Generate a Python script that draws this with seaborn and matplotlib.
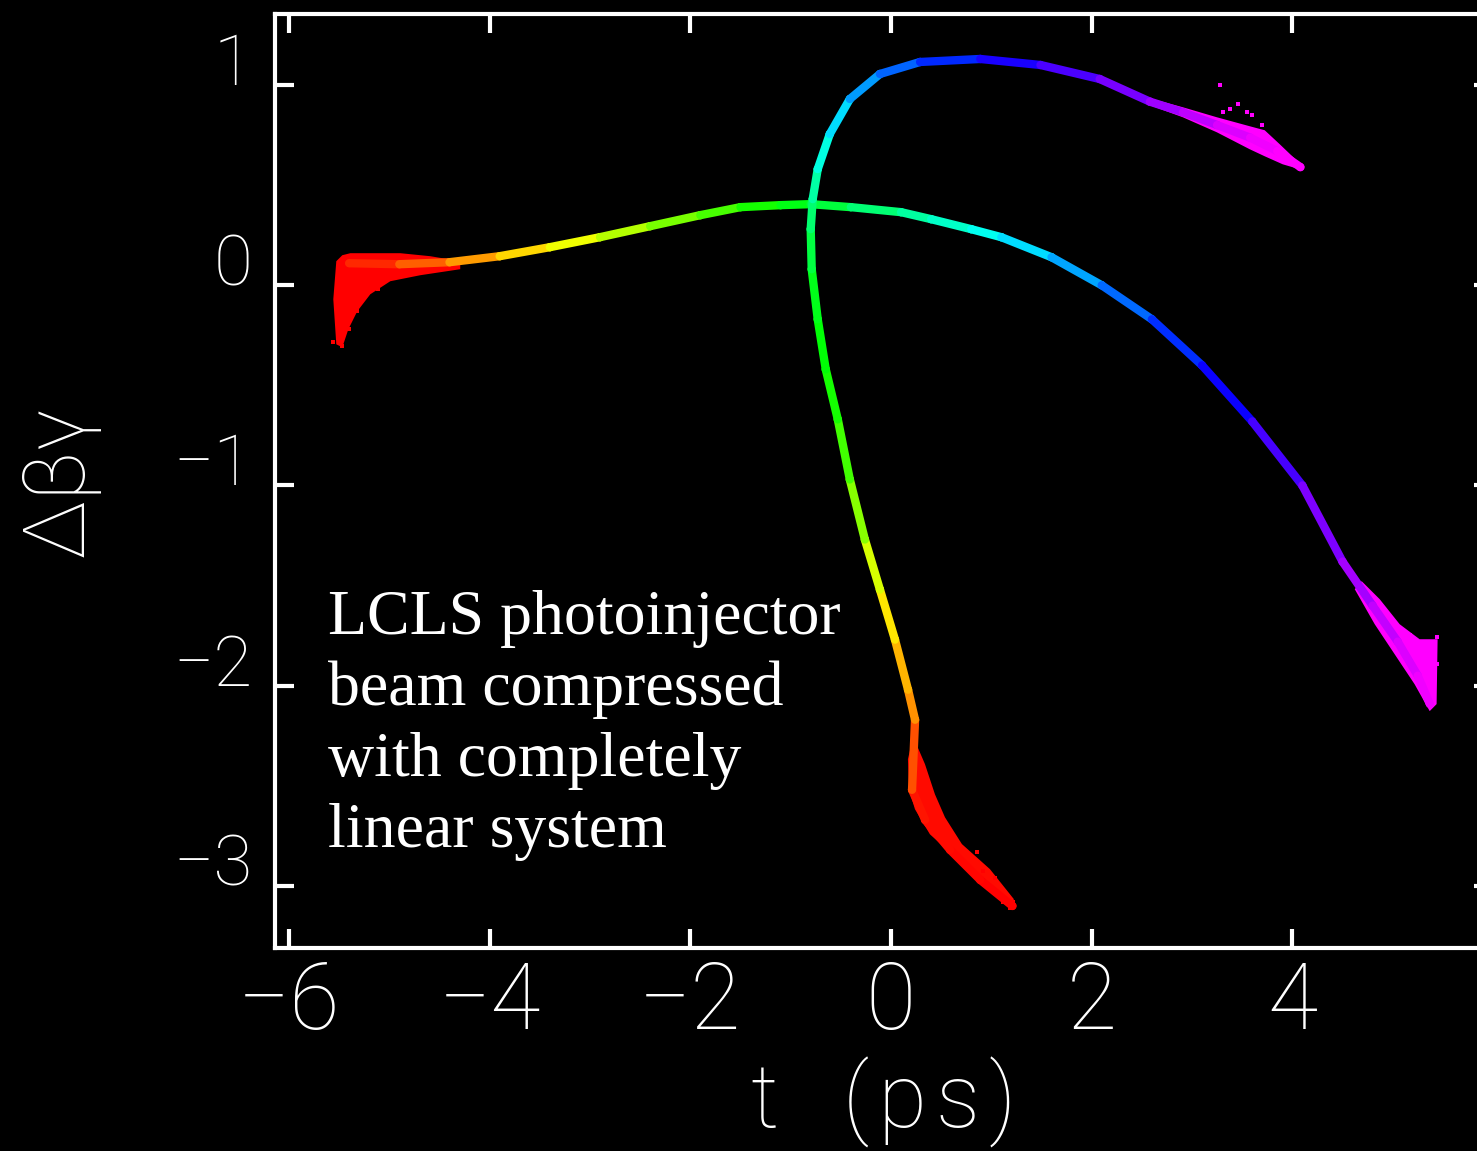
import colorsys
import numpy as np
import pandas as pd
import matplotlib
matplotlib.use("Agg")
import matplotlib.pyplot as plt
from matplotlib.collections import LineCollection
from matplotlib.colors import ListedColormap, Normalize
import seaborn as sns

# Initial (uncompressed) beam: slice time t (ps) and energy deviation
init_t = [-5.40, -4.90, -4.40, -3.90, -3.40, -2.90, -2.40, -1.90, -1.50, -1.10,
          -0.80, -0.40, 0.10, 0.40, 0.80, 1.10, 1.60, 2.10, 2.60, 3.10,
          3.60, 4.10, 4.50, 4.80, 5.05, 5.25, 5.37]
init_dg = [0.110, 0.105, 0.115, 0.145, 0.190, 0.240, 0.295, 0.350, 0.390, 0.400,
           0.405, 0.390, 0.365, 0.330, 0.280, 0.240, 0.140, 0.000, -0.170, -0.400,
           -0.680, -1.000, -1.380, -1.600, -1.780, -1.950, -2.090]

# Compressed beam: t, energy deviation and the original slice time of each point
comp_t = [1.21, 0.89, 0.59, 0.34, 0.21, 0.24, 0.17, 0.04, -0.11, -0.26,
          -0.41, -0.53, -0.65, -0.73, -0.79, -0.80, -0.78, -0.73, -0.61, -0.41,
          -0.11, 0.29, 0.89, 1.49, 2.08, 2.58, 2.91, 3.25, 3.58, 3.85, 4.08]
comp_dg = [-3.10, -2.97, -2.82, -2.67, -2.52, -2.17, -2.02, -1.77, -1.52, -1.27,
           -0.97, -0.67, -0.42, -0.17, 0.08, 0.28, 0.43, 0.58, 0.755, 0.93,
           1.055, 1.115, 1.130, 1.100, 1.030, 0.917, 0.864, 0.800, 0.737, 0.670, 0.590]
comp_phase = [-5.50, -5.45, -5.40, -5.35, -5.25, -4.30, -4.20, -3.70, -3.30, -2.60,
              -1.95, -1.40, -1.15, -1.00, -0.77, -0.37, 0.05, 0.55, 1.07, 1.70,
              2.10, 2.65, 3.20, 3.70, 4.10, 4.45, 4.75, 5.00, 5.25, 5.38, 5.45]

# Outlines of the spread-out beam ends
head_init_t = [-5.528, -5.468, -5.388, -4.890, -4.592, -4.293, -4.293, -4.691, -4.990,
               -5.189, -5.319, -5.408, -5.468, -5.528, -5.558]
head_init_dg = [0.120, 0.150, 0.160, 0.160, 0.145, 0.120, 0.080, 0.050, 0.020,
                -0.045, -0.130, -0.220, -0.310, -0.295, -0.070]
tail_init_t = [4.622, 4.821, 5.020, 5.219, 5.369, 5.438, 5.448, 5.269, 5.070, 4.871, 4.691]
tail_init_dg = [-1.518, -1.693, -1.843, -1.993, -2.127, -2.092, -1.768, -1.768, -1.693,
                -1.568, -1.478]
head_comp_t = [0.200, 0.169, 0.179, 0.239, 0.388, 0.637, 0.936, 1.205, 1.225, 0.986,
               0.707, 0.538, 0.438, 0.339, 0.260]
head_comp_dg = [-2.300, -2.367, -2.517, -2.617, -2.742, -2.856, -2.966, -3.096, -3.066,
                -2.916, -2.791, -2.657, -2.542, -2.392, -2.300]
tail_comp_t = [2.580, 2.908, 3.247, 3.576, 3.725, 3.875, 4.094,
               4.074, 3.904, 3.725, 3.576, 3.247, 2.908, 2.580]
tail_comp_dg = [0.934, 0.889, 0.839, 0.794, 0.774, 0.704, 0.599,
                0.579, 0.604, 0.644, 0.679, 0.764, 0.839, 0.899]

# Stray macroparticles around the beam ends
stray_t = [-5.468, -5.558, -5.398, -5.319, -5.110,
           0.857, 0.916, 1.036, 1.056, 1.116, 1.215, 1.185,
           3.277, 3.456, 3.377, 3.307, 3.546, 3.596, 3.695,
           5.438, 5.169, 5.438, 5.020]
stray_dg = [-0.305, -0.285, -0.220, -0.130, -0.020,
            -2.831, -2.926, -2.961, -3.041, -3.081, -3.081, -3.111,
            0.999, 0.904, 0.879, 0.864, 0.864, 0.849, 0.799,
            -1.758, -1.748, -1.893, -1.693]
stray_phase = [-5.5] * 5 + [-5.5] * 7 + [5.45] * 7 + [5.45] * 4

x_ticks = [-6, -4, -2, 0, 2, 4]
y_ticks = [1, 0, -1, -2, -3]

sns.set_theme(style="ticks")
plt.rcParams["font.family"] = ["Roboto", "DejaVu Sans"]

rainbow = ListedColormap([colorsys.hsv_to_rgb(h, 1.0, 1.0)
                          for h in np.linspace(0.0, 5.0 / 6.0, 256)])
norm = Normalize(-5.5, 5.45)

fig = plt.figure(figsize=(14.77, 11.51), dpi=100, facecolor="black")
ax = fig.add_axes([275 / 1477, 1 - 948 / 1151, (1493 - 275) / 1477, (948 - 14) / 1151])
ax.set_facecolor("black")

LW = 6.0


def colored_path(xs, ys, phase, lw):
    pts = np.column_stack([xs, ys])
    segs = np.stack([pts[:-1], pts[1:]], axis=1)
    ph = np.asarray(phase, dtype=float)
    lc = LineCollection(segs, cmap=rainbow, norm=norm, linewidths=lw,
                        capstyle="round", joinstyle="round")
    lc.set_array(0.5 * (ph[:-1] + ph[1:]))
    ax.add_collection(lc)


# spread-out beam ends
ax.fill(head_init_t, head_init_dg, color=rainbow(norm(-5.5)), lw=0)
ax.fill(tail_init_t, tail_init_dg, color=rainbow(norm(5.45)), lw=0)
ax.fill(head_comp_t, head_comp_dg, color=rainbow(norm(-5.4)), lw=0)
ax.fill(tail_comp_t, tail_comp_dg, color=rainbow(norm(5.45)), lw=0)

# beam cores
colored_path(init_t, init_dg, init_t, LW)
colored_path(comp_t, comp_dg, comp_phase, LW)

core = pd.DataFrame({"t": init_t + comp_t, "dg": init_dg + comp_dg,
                     "phase": init_t + comp_phase})
sns.scatterplot(data=core, x="t", y="dg", hue="phase", palette=rainbow,
                hue_norm=norm, s=LW ** 2, marker="o", linewidth=0,
                legend=False, ax=ax)
strays = pd.DataFrame({"t": stray_t, "dg": stray_dg, "phase": stray_phase})
sns.scatterplot(data=strays, x="t", y="dg", hue="phase", palette=rainbow,
                hue_norm=norm, s=8, marker="s", linewidth=0, legend=False, ax=ax)

ax.set_xlim(-6.139, 6.0)
ax.set_ylim(-3.31, 1.3546)
ax.set_xticks(x_ticks)
ax.set_yticks(y_ticks)
ax.set_xticklabels([f"\u2212{abs(v)}" if v < 0 else str(v) for v in x_ticks],
                   fontsize=66, fontweight="light", color="white")
ax.set_yticklabels([f"\u2212{abs(v)}" if v < 0 else str(v) for v in y_ticks],
                   fontsize=51, fontweight="light", color="white")
for lbl in ax.get_yticklabels():
    lbl.set_verticalalignment("baseline")
ax.tick_params(axis="both", which="both", direction="in", length=14, width=3,
               color="white", top=True, right=True)
ax.tick_params(axis="x", pad=8.5)
ax.tick_params(axis="y", pad=16)
for sp in ax.spines.values():
    sp.set_color("white")
    sp.set_linewidth(3)
    sp.set_visible(True)

ax.set_xlabel("t   (\u200ap\u200as\u200a)", fontsize=64, fontweight="light",
              color="white", labelpad=6)
ax.set_ylabel("\u0394\u03b2\u03b3", fontsize=62, fontweight="light", color="white",
              labelpad=53)

fig.text(328 / 1477, 1 - 847 / 1151,
         "LCLS photoinjector\nbeam compressed\nwith completely\nlinear system",
         family="Liberation Serif", fontsize=46, color="white",
         va="baseline", ha="left", linespacing=1.29)

fig.savefig("out.png", dpi=100, facecolor="black")
